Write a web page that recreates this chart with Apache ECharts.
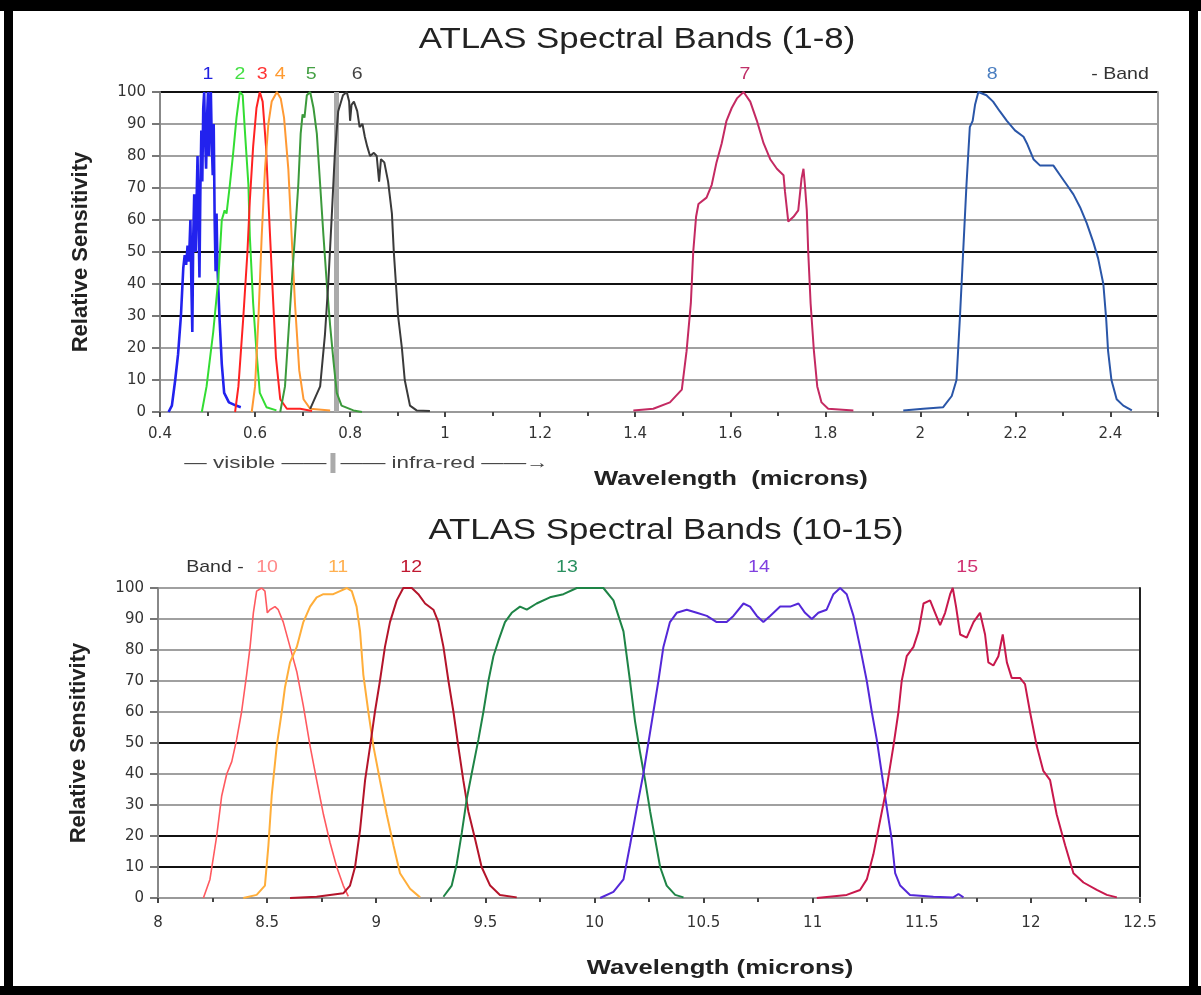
<!DOCTYPE html>
<html>
<head>
<meta charset="utf-8">
<script src="https://cdn.jsdelivr.net/npm/echarts@6/dist/echarts.min.js"></script>
<style>
  html, body { margin: 0; padding: 0; background: #fff; }
  #chart { width: 1201px; height: 995px; }
</style>
</head>
<body>
<div id="chart"></div>
<script>
// --- top chart (bands 1-8), [wavelength, relative sensitivity]
const band1 = [[0.418,0],[0.425,2],[0.432,10],[0.438,18],[0.444,30],[0.449,45],[0.452,49],[0.455,46],[0.458,52],[0.461,47],[0.464,60],[0.466,40],[0.468,25],[0.470,55],[0.472,68],[0.475,50],[0.477,66],[0.479,80],[0.481,60],[0.483,42],[0.485,70],[0.487,88],[0.489,72],[0.491,95],[0.493,100],[0.495,85],[0.497,76],[0.499,92],[0.501,100],[0.503,80],[0.505,96],[0.507,100],[0.509,84],[0.511,74],[0.513,90],[0.515,60],[0.517,44],[0.519,62],[0.521,45],[0.525,30],[0.530,15],[0.535,6],[0.545,3],[0.560,2],[0.570,1.5]]
const band2 = [[0.488,0],[0.498,8],[0.512,25],[0.523,42],[0.530,60],[0.536,63],[0.540,62],[0.547,71],[0.554,81],[0.561,92],[0.568,100],[0.574,99],[0.579,87],[0.586,71],[0.589,55],[0.596,34],[0.603,19],[0.610,6],[0.624,1.5],[0.645,0.5]]
const band3 = [[0.558,0],[0.565,8],[0.575,29],[0.584,50],[0.589,66],[0.596,83],[0.603,95],[0.610,100],[0.616,97],[0.623,83],[0.630,60],[0.637,38],[0.644,17],[0.653,4],[0.667,1],[0.695,1],[0.720,0.3]]
const band4 = [[0.593,0],[0.600,8],[0.607,29],[0.614,55],[0.621,76],[0.628,90],[0.635,97],[0.646,100],[0.654,98],[0.661,92],[0.670,76],[0.677,55],[0.684,34],[0.693,13],[0.702,4],[0.716,1],[0.758,0.5]]
const band5 = [[0.653,0],[0.663,8],[0.670,24],[0.677,40],[0.684,55],[0.691,71],[0.696,87],[0.700,93],[0.704,92],[0.709,99],[0.716,100],[0.723,95],[0.730,87],[0.737,71],[0.744,55],[0.751,40],[0.758,27],[0.765,16],[0.772,6],[0.782,2],[0.807,0.5],[0.825,0]]
const band6 = [[0.716,1],[0.737,8],[0.747,24],[0.754,40],[0.761,60],[0.768,81],[0.775,94],[0.785,99],[0.793,100],[0.798,97],[0.800,91],[0.803,96],[0.808,97],[0.815,94],[0.820,89],[0.826,90],[0.831,86],[0.836,83],[0.842,80],[0.850,81],[0.856,80],[0.861,72],[0.865,79],[0.872,78],[0.880,72],[0.888,62],[0.892,50],[0.901,30],[0.909,20],[0.915,10],[0.926,2],[0.940,0.5],[0.968,0.3]]
const band7 = [[1.396,0.5],[1.438,1],[1.473,3],[1.498,7],[1.508,19],[1.517,34],[1.522,50],[1.528,61],[1.533,65],[1.550,67],[1.561,71],[1.571,78],[1.582,84],[1.592,91],[1.603,95],[1.614,98],[1.628,100],[1.642,97],[1.656,91],[1.670,84],[1.684,79],[1.698,76],[1.712,74],[1.715,69],[1.722,59.5],[1.733,61],[1.743,63],[1.750,73],[1.754,76],[1.757,71],[1.761,63],[1.764,50],[1.769,34],[1.776,19],[1.783,8],[1.792,3],[1.806,1],[1.859,0.5]]
const band8 = [[1.964,0.5],[2.006,1],[2.048,1.5],[2.066,5],[2.076,10],[2.083,29],[2.090,50],[2.097,71],[2.104,89],[2.110,91],[2.115,96],[2.122,100],[2.139,99],[2.153,97],[2.167,94],[2.182,91],[2.199,88],[2.217,86],[2.224,84],[2.238,79],[2.252,77],[2.266,77],[2.280,77],[2.294,74],[2.308,71],[2.322,68],[2.336,64],[2.350,59],[2.364,53],[2.374,48],[2.385,40],[2.391,29],[2.395,19],[2.402,10],[2.413,4],[2.427,2],[2.445,0.5]]

// --- bottom chart (bands 10-15)
const band10 = [[8.208,0],[8.238,6],[8.269,20],[8.292,33],[8.315,40],[8.338,44],[8.360,51],[8.383,60],[8.406,72],[8.422,81],[8.437,92],[8.452,99],[8.475,100],[8.490,99],[8.501,92],[8.513,93],[8.536,94],[8.551,93],[8.574,89],[8.605,81],[8.636,73],[8.666,62],[8.697,49],[8.727,38],[8.758,27],[8.788,18],[8.819,10],[8.849,4],[8.872,0.5]]
const band11 = [[8.391,0],[8.452,1],[8.490,4],[8.506,17],[8.521,33],[8.544,49],[8.567,60],[8.582,68],[8.605,76],[8.636,81],[8.666,89],[8.697,94],[8.727,97],[8.758,98],[8.803,98],[8.834,99],[8.865,100],[8.888,99],[8.910,94],[8.926,86],[8.941,72],[8.964,60],[8.987,49],[9.017,38],[9.048,27],[9.079,17],[9.109,8],[9.155,3],[9.201,0.2]]
const band12 = [[8.605,0],[8.727,0.4],[8.849,1.5],[8.880,4],[8.903,10],[8.926,22],[8.949,38],[8.972,49],[8.994,60],[9.017,70],[9.040,81],[9.063,89],[9.094,96],[9.124,100],[9.163,100],[9.193,98],[9.224,95],[9.262,93],[9.285,89],[9.308,81],[9.331,70],[9.354,60],[9.376,49],[9.399,38],[9.422,28],[9.453,19],[9.483,10],[9.522,4],[9.567,1],[9.644,0.2]]
const band13 = [[9.308,0.4],[9.346,4],[9.369,11],[9.392,21],[9.415,32],[9.437,40],[9.468,51],[9.491,60],[9.514,70],[9.537,78],[9.560,83],[9.590,89],[9.621,92],[9.659,94],[9.690,93],[9.735,95],[9.796,97],[9.858,98],[9.919,100],[9.980,100],[10.041,100],[10.087,96],[10.133,86],[10.163,70],[10.186,57],[10.209,47],[10.232,38],[10.255,28],[10.278,19],[10.301,10],[10.331,4],[10.370,1],[10.408,0.2]]
const band14 = [[10.026,0],[10.087,2],[10.133,6],[10.163,17],[10.194,29],[10.224,40],[10.247,50],[10.270,60],[10.293,70],[10.316,81],[10.346,89],[10.377,92],[10.423,93],[10.469,92],[10.515,91],[10.560,89],[10.606,89],[10.637,91],[10.683,95],[10.713,94],[10.744,91],[10.774,89],[10.805,91],[10.851,94],[10.897,94],[10.935,95],[10.965,92],[10.996,90],[11.026,92],[11.064,93],[11.095,98],[11.126,100],[11.156,98],[11.187,91],[11.217,81],[11.248,70],[11.271,60],[11.294,51],[11.317,40],[11.340,29],[11.362,19],[11.378,8],[11.401,4],[11.446,1],[11.553,0.4],[11.645,0.2],[11.668,1.3],[11.691,0.2]]
const band15 = [[11.019,0],[11.156,1],[11.217,2.6],[11.248,6],[11.278,14],[11.309,25],[11.340,36],[11.370,49],[11.393,60],[11.408,70],[11.431,78],[11.462,81],[11.485,86],[11.508,95],[11.538,96],[11.561,92],[11.584,88],[11.607,92],[11.630,98],[11.642,100],[11.657,94],[11.676,85],[11.706,84],[11.737,89],[11.767,92],[11.790,85],[11.805,76],[11.828,75],[11.851,78],[11.871,85],[11.890,76],[11.912,71],[11.950,71],[11.973,69],[11.996,60],[12.027,49],[12.057,41],[12.088,38],[12.118,27],[12.157,17],[12.195,8],[12.241,5],[12.302,2.6],[12.348,1],[12.394,0.2]]

// band labels above each plot and the wavelength they sit over
const topBandNames = ["1", "2", "3", "4", "5", "6", "7", "8"]
const topBandAt = [0.501, 0.568, 0.615, 0.653, 0.718, 0.815, 1.631, 2.151]
const lowBandNames = ["10", "11", "12", "13", "14", "15"]
const lowBandAt = [8.5, 8.825, 9.16, 9.874, 10.754, 11.708]
const visNirBoundary = 0.765

const topLines = [band1, band2, band3, band4, band5, band6, band7, band8]
const lowLines = [band10, band11, band12, band13, band14, band15]
const topColors = ["#2222ee", "#33dd33", "#ff2222", "#ff9933", "#3c9a3c", "#3a3a3a", "#c42a62", "#2a56a8"]
const lowColors = ["#ff5a60", "#ffae3a", "#b4142a", "#1e8446", "#5428d8", "#c8184c"]
const topLabelColors = ["#2020e0", "#44e044", "#ff3333", "#ff9a30", "#44a044", "#444444", "#c03068", "#4a7ec0"]
const lowLabelColors = ["#ff8a8a", "#ffb050", "#c01830", "#2a9060", "#8040e0", "#d03070"]

const chart = echarts.init(document.getElementById("chart"))

const GRAY = "#a0a0a0"
const BLACK = "#111111"
// y = 0,10,...,100
const topSplit = [GRAY, GRAY, GRAY, BLACK, BLACK, BLACK, GRAY, GRAY, GRAY, GRAY, BLACK]
const lowSplit = [GRAY, BLACK, BLACK, GRAY, GRAY, BLACK, GRAY, GRAY, GRAY, GRAY, GRAY]

const tickFont = { color: "#333", fontSize: 15, fontFamily: "DejaVu Sans" }

function yAxisFor(gridIndex, split) {
  return {
    gridIndex,
    type: "value",
    min: 0,
    max: 100,
    interval: 10,
    name: "Relative Sensitivity",
    nameLocation: "middle",
    nameGap: 68,
    nameRotate: 90,
    nameTextStyle: { fontSize: 22, fontWeight: "bold", color: "#222", fontFamily: "Liberation Sans" },
    axisLine: { show: true, lineStyle: { color: "#888", width: 2 } },
    axisTick: { show: true, length: 8, lineStyle: { color: "#777", width: 2 } },
    axisLabel: { ...tickFont, margin: 14 },
    splitLine: { show: true, lineStyle: { color: split, width: 2 } },
  }
}

function rightBorder(gridIndex, color) {
  return {
    gridIndex,
    type: "value",
    position: "right",
    min: 0,
    max: 100,
    axisLine: { show: true, lineStyle: { color, width: 2 } },
    axisTick: { show: false },
    axisLabel: { show: false },
    splitLine: { show: false },
  }
}

const series = []
topLines.forEach((d, i) => {
  series.push({
    type: "line",
    xAxisIndex: 0,
    yAxisIndex: 0,
    data: d,
    showSymbol: false,
    lineStyle: { color: topColors[i], width: i === 0 ? 2.6 : 2 },
    z: 3,
  })
})
// visible / infra-red divider
series[5].markLine = {
  silent: true,
  symbol: "none",
  label: { show: false },
  lineStyle: { color: "#aaaaaa", width: 5, type: "solid" },
  data: [{ xAxis: visNirBoundary }],
  z: 1,
}
lowLines.forEach((d, i) => {
  series.push({
    type: "line",
    xAxisIndex: 1,
    yAxisIndex: 1,
    data: d,
    showSymbol: false,
    lineStyle: { color: lowColors[i], width: i === 0 ? 1.6 : 2 },
    z: 3,
  })
})

const option = {
  backgroundColor: "#ffffff",
  animation: false,
  grid: [
    { left: 160, top: 92, right: 43, height: 320 },
    { left: 158, top: 588, right: 61, height: 310 },
  ],
  xAxis: [
    {
      gridIndex: 0,
      type: "value",
      min: 0.4,
      max: 2.5,
      interval: 0.2,
      axisLine: { show: true, onZero: false, lineStyle: { color: "#999", width: 2 } },
      axisTick: { show: true, length: 5, lineStyle: { color: "#444", width: 2 } },
      minorTick: { show: true, splitNumber: 2, length: 4, lineStyle: { color: "#444", width: 2 } },
      axisLabel: { ...tickFont, margin: 15, showMaxLabel: false, formatter: (v) => String(+v.toFixed(1)) },
      splitLine: { show: false },
    },
    {
      gridIndex: 1,
      type: "value",
      min: 8,
      max: 12.5,
      interval: 0.5,
      axisLine: { show: true, onZero: false, lineStyle: { color: "#999", width: 2 } },
      axisTick: { show: true, length: 5, lineStyle: { color: "#444", width: 2 } },
      minorTick: { show: true, splitNumber: 2, length: 4, lineStyle: { color: "#444", width: 2 } },
      axisLabel: { ...tickFont, margin: 18 },
      splitLine: { show: false },
    },
  ],
  yAxis: [yAxisFor(0, topSplit), yAxisFor(1, lowSplit), rightBorder(0, "#999"), rightBorder(1, "#222")],
  series,
}

chart.setOption(option)

// texts and frame, placed with the axes' own scales
function txt(x, y, text, style, scaleX) {
  return {
    type: "text",
    x,
    y,
    scaleX: scaleX || 1,
    style: Object.assign({ text, x: 0, y: 0, align: "center", verticalAlign: "middle", fill: "#222", fontFamily: "Liberation Sans" }, style),
    z: 10,
  }
}

const els = []
els.push(txt(637, 40, "ATLAS Spectral Bands (1-8)", { fontSize: 30 }, 1.16))
els.push(txt(666, 531, "ATLAS Spectral Bands (10-15)", { fontSize: 30 }, 1.16))
els.push(txt(731, 479, "Wavelength  (microns)", { fontSize: 21, fontWeight: "bold" }, 1.22))
els.push(txt(720, 968, "Wavelength (microns)", { fontSize: 21, fontWeight: "bold" }, 1.22))

topBandNames.forEach((n, i) => {
  const p = chart.convertToPixel({ gridIndex: 0 }, [topBandAt[i], 100])
  els.push(txt(p[0], p[1] - 18, n, { fontSize: 17, fill: topLabelColors[i] }, 1.15))
})
els.push(txt(1120, 74, "- Band", { fontSize: 17, fill: "#333" }, 1.15))
lowBandNames.forEach((n, i) => {
  const p = chart.convertToPixel({ gridIndex: 1 }, [lowBandAt[i], 100])
  els.push(txt(p[0], p[1] - 21, n, { fontSize: 17, fill: lowLabelColors[i] }, 1.15))
})
els.push(txt(215, 567, "Band -", { fontSize: 17, fill: "#333" }, 1.15))

// visible / infra-red note under the top axis
const bx = chart.convertToPixel({ gridIndex: 0 }, [visNirBoundary, 0])[0]
els.push(txt(bx - 7, 463, "\u2014 visible \u2014\u2014", { fontSize: 17, fill: "#444", align: "right" }, 1.32))
els.push({ type: "rect", shape: { x: bx - 3, y: 453, width: 5, height: 20 }, style: { fill: "#aaaaaa" }, z: 10 })
els.push(txt(bx + 7, 463, "\u2014\u2014 infra-red \u2014\u2014\u2192", { fontSize: 17, fill: "#444", align: "left" }, 1.32))

// black outer frame
const frame = [
  [0, 0, 1201, 11],
  [4, 0, 9, 995],
  [1189, 0, 9, 995],
  [0, 986, 1201, 9],
]
frame.forEach((r) => {
  els.push({ type: "rect", shape: { x: r[0], y: r[1], width: r[2], height: r[3] }, style: { fill: "#000" }, z: 20 })
})

chart.setOption({ graphic: { elements: els } })
</script>
</body>
</html>
